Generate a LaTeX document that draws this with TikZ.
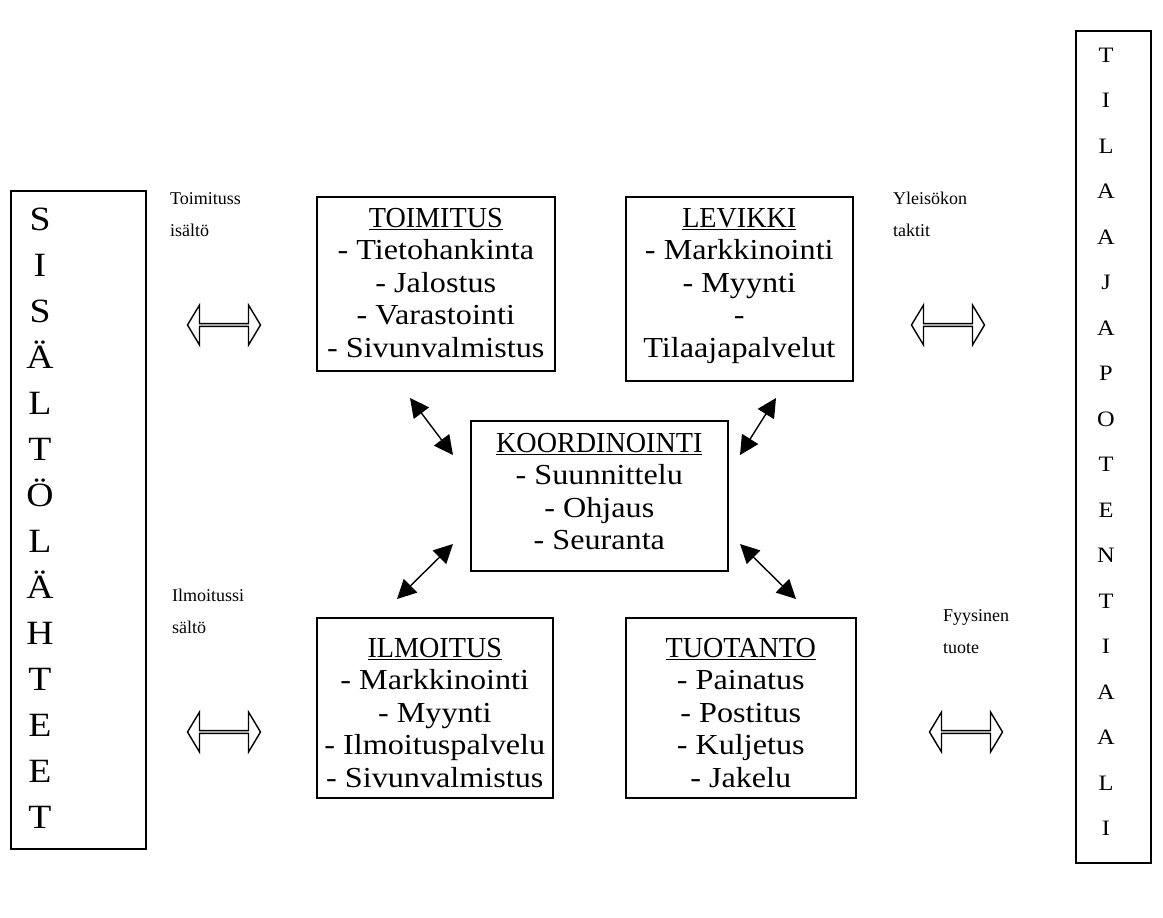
\documentclass[tikz,border=0pt]{standalone}
\usepackage{fontspec}
\setmainfont{Liberation Serif}[FakeStretch=1.11]
\newfontfamily\headfont{Liberation Serif}[FakeStretch=0.97]
\newfontfamily\notefont{Liberation Serif}
\newcommand\head[1]{\underline{\headfont #1}}
\usetikzlibrary{positioning,shapes.arrows,arrows.meta}

\tikzset{
  frame/.style={draw, line width=1.6pt, anchor=north west, inner sep=0pt},
  boxtext/.style={align=center, inner sep=0pt, font=\fontsize{29}{32.5}\selectfont},
  sidenote/.style={anchor=north west, align=left, inner sep=0pt, font=\notefont\fontsize{18}{32}\selectfont},
  bigletter/.style={anchor=base, inner sep=0pt, font=\fontsize{34}{36}\selectfont},
  smallletter/.style={anchor=base, inner sep=0pt, font=\fontsize{22}{24}\selectfont},
  flow/.style={double arrow, draw, line width=1.4pt, inner sep=0pt,
    minimum height=73pt, minimum width=40pt,
    double arrow head extend=10pt, double arrow tip angle=118},
  link/.style={{Triangle[length=19pt,width=19pt]}-{Triangle[length=19pt,width=19pt]}, line width=1.4pt},
}

\begin{document}
\begin{tikzpicture}[x=1pt, y=-1pt]
\useasboundingbox (0,0) rectangle (1163,918);

% sources, left column
\node[frame, minimum width=135pt, minimum height=658pt] (sources) at (10,190) {};
\foreach \ch [count=\i from 0] in {S,I,S,Ä,L,T,Ö,L,Ä,H,T,E,E,T}
  \node[bigletter] (src-\i) at (40,230+46*\i) {\ch};

% subscriber potential, right column
\node[frame, minimum width=75pt, minimum height=832pt] (readers) at (1075,30) {};
\foreach \ch [count=\i from 0] in {T,I,L,A,A,J,A,P,O,T,E,N,T,I,A,A,L,I}
  \node[smallletter] (pot-\i) at (1106,62+45.5*\i) {\ch};

% departments
\node[frame, minimum width=238pt, minimum height=174pt] (toimitus) at (316,196) {};
\node[boxtext, below=12pt of toimitus.north] (toimitus-t)
  {\head{TOIMITUS}\\- Tietohankinta\\- Jalostus\\- Varastointi\\- Sivunvalmistus};

\node[frame, minimum width=227pt, minimum height=184pt] (levikki) at (625,196) {};
\node[boxtext, below=12pt of levikki.north] (levikki-t)
  {\head{LEVIKKI}\\- Markkinointi\\- Myynti\\-\\Tilaajapalvelut};

\node[frame, minimum width=257pt, minimum height=150pt] (koord) at (470,420) {};
\node[boxtext, below=13pt of koord.north] (koord-t)
  {\head{KOORDINOINTI}\\- Suunnittelu\\- Ohjaus\\- Seuranta};

\node[frame, minimum width=236pt, minimum height=180pt] (ilmoitus) at (316,617) {};
\node[boxtext, below=21pt of ilmoitus.north] (ilmoitus-t)
  {\head{ILMOITUS}\\- Markkinointi\\- Myynti\\- Ilmoituspalvelu\\- Sivunvalmistus};

\node[frame, minimum width=230pt, minimum height=180pt] (tuotanto) at (625,617) {};
\node[boxtext, below=21pt of tuotanto.north] (tuotanto-t)
  {\head{TUOTANTO}\\- Painatus\\- Postitus\\- Kuljetus\\- Jakelu};

% flows in and out
\node[sidenote] (n-sis) at (170,192) {Toimituss\\isältö};
\node[sidenote] (n-yle) at (893,192) {Yleisökon\\taktit};
\node[sidenote] (n-ilm) at (172,589) {Ilmoitussi\\sältö};
\node[sidenote] (n-fyy) at (943,609) {Fyysinen\\tuote};

\node[flow] (f-sis) at (224,325) {};
\node[flow] (f-yle) at (948,325) {};
\node[flow] (f-ilm) at (224,732) {};
\node[flow] (f-fyy) at (966,732) {};

% links to coordination
\coordinate (nw-a) at (410,398);
\coordinate (nw-b) at (453,455);
\coordinate (ne-a) at (776,398);
\coordinate (ne-b) at (740,455);
\coordinate (sw-a) at (397,599);
\coordinate (sw-b) at (453,544);
\coordinate (se-a) at (740,544);
\coordinate (se-b) at (796,599);
\draw[link] (nw-a) -- (nw-b);
\draw[link] (ne-a) -- (ne-b);
\draw[link] (sw-a) -- (sw-b);
\draw[link] (se-a) -- (se-b);

\end{tikzpicture}
\end{document}
